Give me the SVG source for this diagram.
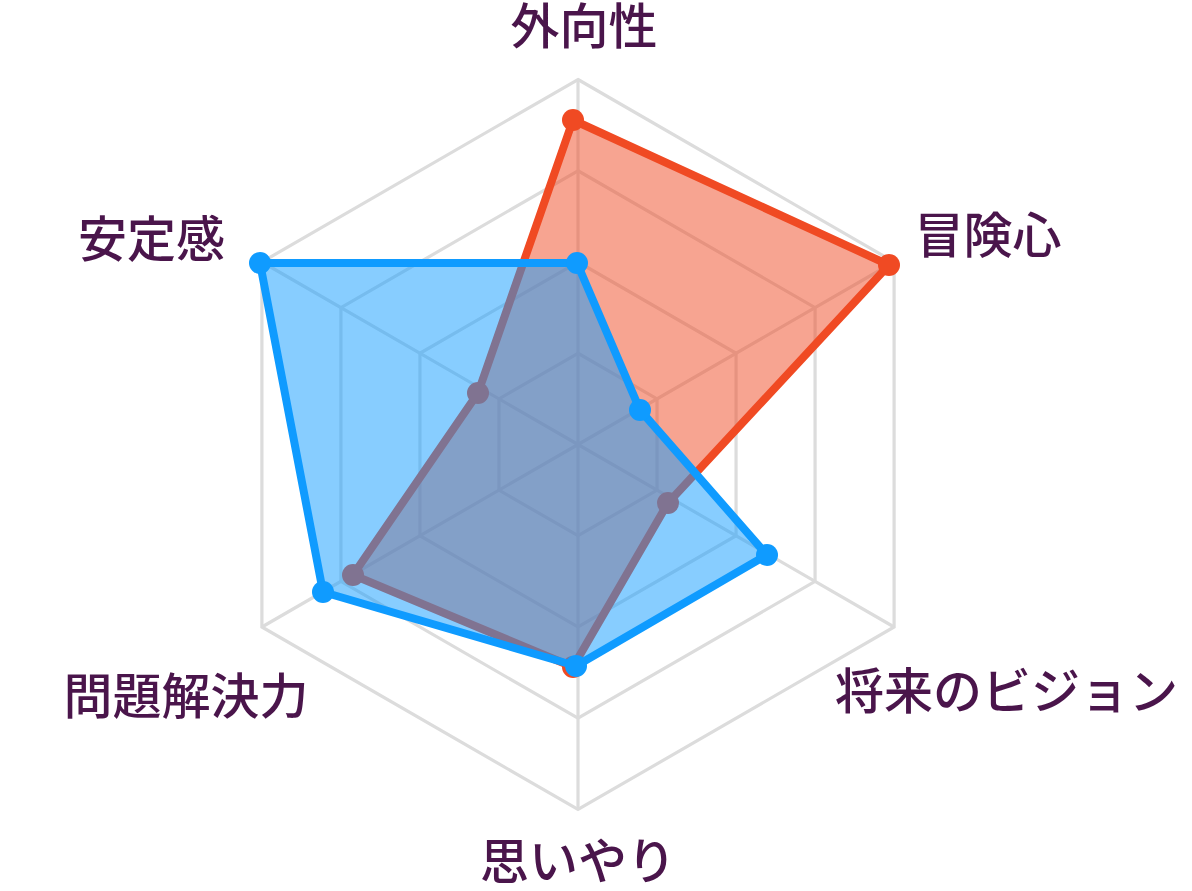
<svg xmlns="http://www.w3.org/2000/svg" width="1192" height="891" viewBox="0 0 1192 891">
<style>
.grid{fill:none;stroke:#dcdcdc;stroke-width:3.2}
.lbl{font-family:"Noto Sans CJK JP","Noto Sans CJK SC",sans-serif;font-size:49px;font-weight:500;fill:#4a154b;text-anchor:middle}
.red-area{fill:#f04a23;fill-opacity:0.5;stroke:#f04a23;stroke-width:8;stroke-linejoin:round}
.red-pt{fill:#f04a23}
.blue-area{fill:#0f9bff;fill-opacity:0.5;stroke:#0f9bff;stroke-width:8;stroke-linejoin:round}
.blue-pt{fill:#0f9bff}
</style>
<rect width="1192" height="891" fill="#ffffff"/>
<g id="grid">
<polygon class="grid" points="578,353.25 657.02,398.875 657.02,490.125 578,535.75 498.98,490.125 498.98,398.875"/>
<polygon class="grid" points="578,262 736.05,353.25 736.05,535.75 578,627 419.95,535.75 419.95,353.25"/>
<polygon class="grid" points="578,170.75 815.07,307.625 815.07,581.375 578,718.25 340.93,581.375 340.93,307.625"/>
<polygon class="grid" points="578,79.5 894.1,262 894.1,627 578,809.5 261.9,627 261.9,262"/>
<path class="grid" d="M578,444.5L578,79.5M578,444.5L894.1,262M578,444.5L894.1,627M578,444.5L578,809.5M578,444.5L261.9,627M578,444.5L261.9,262"/>
</g>
<g id="series-red">
<polygon class="red-area" points="573,120 889,265 668,503 573,667 353,575 478,393"/>
<circle class="red-pt" cx="573" cy="120" r="11"/>
<circle class="red-pt" cx="889" cy="265" r="11"/>
<circle class="red-pt" cx="668" cy="503" r="11"/>
<circle class="red-pt" cx="573" cy="667" r="11"/>
<circle class="red-pt" cx="353" cy="575" r="11"/>
<circle class="red-pt" cx="478" cy="393" r="11"/>
</g>
<g id="series-blue">
<polygon class="blue-area" points="577,263 640,410 767,555 576,666 323,592 260,263"/>
<circle class="blue-pt" cx="577" cy="263" r="11"/>
<circle class="blue-pt" cx="640" cy="410" r="11"/>
<circle class="blue-pt" cx="767" cy="555" r="11"/>
<circle class="blue-pt" cx="576" cy="666" r="11"/>
<circle class="blue-pt" cx="323" cy="592" r="11"/>
<circle class="blue-pt" cx="260" cy="263" r="11"/>
</g>
<g id="label-gaikousei"><text class="lbl" x="584" y="44">外向性</text></g>
<g id="label-boukenshin"><text class="lbl" x="988" y="252.6">冒険心</text></g>
<g id="label-vision"><text class="lbl" x="1006.5" y="709">将来のビジョン</text></g>
<g id="label-omoiyari"><text class="lbl" x="578" y="878.5">思いやり</text></g>
<g id="label-mondai"><text class="lbl" x="186" y="713.6">問題解決力</text></g>
<g id="label-anteikan"><text class="lbl" x="151.5" y="256.6">安定感</text></g>
</svg>
